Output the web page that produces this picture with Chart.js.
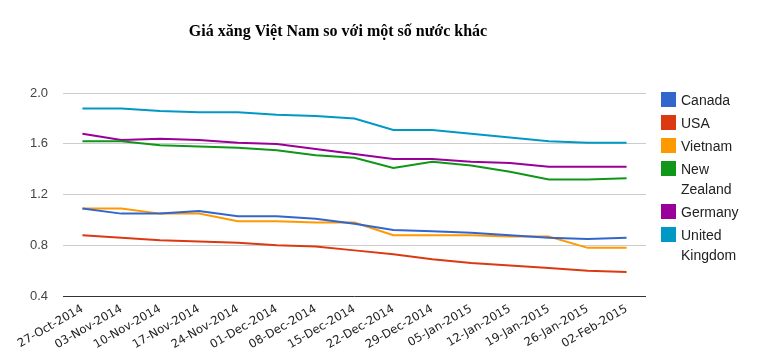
<!DOCTYPE html>
<html>
<head>
<meta charset="utf-8">
<script src="https://cdn.jsdelivr.net/npm/chart.js@4.4.0/dist/chart.umd.min.js"></script>
<style>
  body { margin: 0; background: #fff; }
  #wrap { position: relative; width: 772px; height: 364px; }
  #chart { position: absolute; left: 0; top: 0; }
  #legend { position: absolute; left: 661px; top: 90px; font: 14px "Liberation Sans", Arial, sans-serif; color: #222; }
  .item { display: flex; align-items: flex-start; margin-bottom: 3px; }
  .box { width: 15px; height: 15px; margin: 2px 5px 0 0; flex: none; }
  .lbl { line-height: 20px; width: 80px; }
</style>
</head>
<body>
<div id="wrap">
  <canvas id="chart" width="676" height="364"></canvas>
  <div id="legend"></div>
</div>
<script>
// week labels
const weeks = ["27-Oct-2014", "03-Nov-2014", "10-Nov-2014", "17-Nov-2014", "24-Nov-2014",
  "01-Dec-2014", "08-Dec-2014", "15-Dec-2014", "22-Dec-2014", "29-Dec-2014",
  "05-Jan-2015", "12-Jan-2015", "19-Jan-2015", "26-Jan-2015", "02-Feb-2015"];

const canada  = [1.09, 1.05, 1.05, 1.07, 1.03, 1.03, 1.01, 0.97, 0.92, 0.91, 0.90, 0.88, 0.86, 0.85, 0.86];
const usa     = [0.88, 0.86, 0.84, 0.83, 0.82, 0.80, 0.79, 0.76, 0.73, 0.69, 0.66, 0.64, 0.62, 0.60, 0.59];
const vietnam = [1.09, 1.09, 1.05, 1.05, 0.99, 0.99, 0.98, 0.98, 0.88, 0.88, 0.88, 0.87, 0.87, 0.78, 0.78];
const newZealand = [1.62, 1.62, 1.59, 1.58, 1.57, 1.55, 1.51, 1.49, 1.41, 1.46, 1.43, 1.38, 1.32, 1.32, 1.33];
const germany = [1.68, 1.63, 1.64, 1.63, 1.61, 1.60, 1.56, 1.52, 1.48, 1.48, 1.46, 1.45, 1.42, 1.42, 1.42];
const uk      = [1.88, 1.88, 1.86, 1.85, 1.85, 1.83, 1.82, 1.80, 1.71, 1.71, 1.68, 1.65, 1.62, 1.61, 1.61];

const yTicks = [0.4, 0.8, 1.2, 1.6, 2.0];

const series = [
  { name: "Canada", legend: ["Canada"], data: canada, color: "#3366cc" },
  { name: "USA", legend: ["USA"], data: usa, color: "#dc3912" },
  { name: "Vietnam", legend: ["Vietnam"], data: vietnam, color: "#ff9900" },
  { name: "New Zealand", legend: ["New", "Zealand"], data: newZealand, color: "#109618" },
  { name: "Germany", legend: ["Germany"], data: germany, color: "#990099" },
  { name: "United Kingdom", legend: ["United", "Kingdom"], data: uk, color: "#0099c6" }
];

// legend on the right, like the original (wrapped names)
const legendEl = document.getElementById('legend');
series.forEach(s => {
  const row = document.createElement('div');
  row.className = 'item';
  row.innerHTML = '<div class="box" style="background:' + s.color + '"></div><div class="lbl">' + s.legend.join('<br>') + '</div>';
  legendEl.appendChild(row);
});

const ctx = document.getElementById('chart').getContext('2d');
new Chart(ctx, {
  type: 'line',
  data: {
    labels: weeks,
    datasets: series.map(s => ({
      label: s.name,
      data: s.data,
      borderColor: s.color,
      backgroundColor: s.color,
      borderWidth: 2,
      pointRadius: 0,
      tension: 0
    }))
  },
  options: {
    responsive: false,
    animation: false,
    layout: { padding: { left: 30, right: 30, top: 0, bottom: 6 } },
    plugins: {
      legend: { display: false },
      tooltip: { enabled: false },
      title: {
        display: true,
        text: 'Giá xăng Việt Nam so với một số nước khác',
        color: '#000',
        font: { family: '"Liberation Serif", "Times New Roman", serif', size: 16, weight: 'bold' },
        padding: { top: 22, bottom: 52 }
      }
    },
    scales: {
      x: {
        offset: true,
        grid: { display: false, drawTicks: false },
        border: { display: false },
        ticks: {
          minRotation: 30,
          maxRotation: 30,
          autoSkip: false,
          padding: 6,
          color: '#222',
          font: { family: '"DejaVu Sans", Verdana, sans-serif', size: 11.7 }
        }
      },
      y: {
        min: 0.4,
        max: 2.0,
        afterBuildTicks: axis => { axis.ticks = yTicks.map(v => ({ value: v })); },
        afterFit: axis => { axis.width = 33; },
        grid: {
          drawTicks: false,
          color: c => (c.tick && c.tick.value === 0.4) ? '#333' : '#ccc'
        },
        border: { display: false },
        ticks: {
          padding: 15,
          color: '#444',
          font: { family: '"Liberation Sans", Arial, sans-serif', size: 13 },
          callback: v => v.toFixed(1)
        }
      }
    }
  }
});
</script>
</body>
</html>
